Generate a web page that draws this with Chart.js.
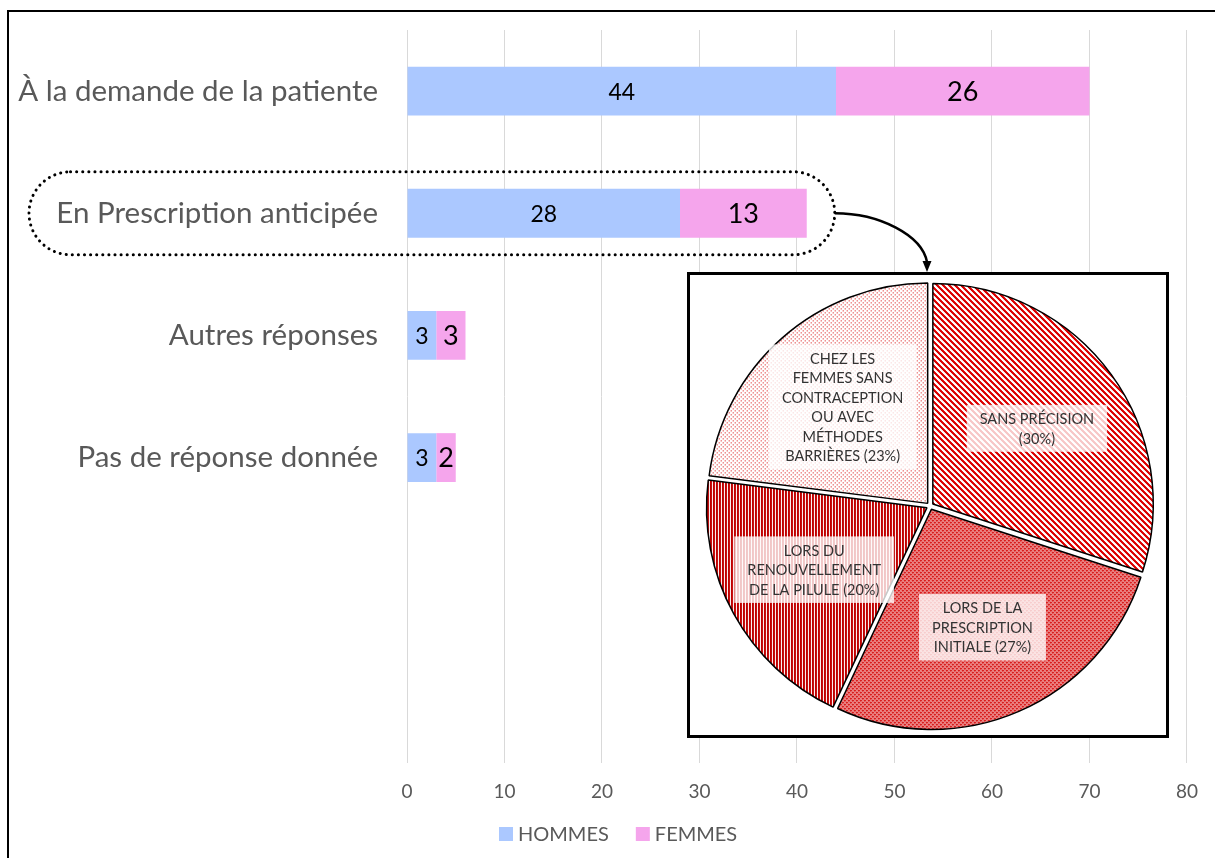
<!DOCTYPE html>
<html>
<head>
<meta charset="utf-8">
<script src="https://cdn.jsdelivr.net/npm/chart.js@4.4.1/dist/chart.umd.min.js"></script>
<style>
  html, body { margin: 0; padding: 0; background: #fff; overflow: hidden; }
  #page { position: relative; width: 1215px; height: 858px; overflow: hidden; }
  #frame { position: absolute; left: 7px; top: 10px; width: 1400px; height: 1000px; border: 2px solid #000; box-sizing: border-box; }
  #barChart { position: absolute; left: 0; top: 0; }
  #pieBox { position: absolute; left: 687px; top: 272px; width: 482px; height: 466px; border: 3px solid #000; box-sizing: border-box; background: #fff; }
  #pieChart { position: absolute; left: 695px; top: 271px; }
</style>
</head>
<body>
<div id="page">
  <div id="frame"></div>
  <canvas id="barChart" width="1215" height="858"></canvas>
  <div id="pieBox"></div>
  <canvas id="pieChart" width="470" height="470"></canvas>
</div>
<script>
// bar chart data
const categories = ['À la demande de la patiente', 'En Prescription anticipée', 'Autres réponses', 'Pas de réponse donnée', '', ''];
const hommes = [44, 28, 3, 3, null, null];
const femmes = [26, 13, 3, 2, null, null];
const seriesNames = ['HOMMES', 'FEMMES'];
const xMin = 0, xMax = 80, xStep = 10;

// pie data (inset : détail de la prescription anticipée)
const pieLabels = [
  ['SANS PRÉCISION', '(30%)'],
  ['LORS DE LA', 'PRESCRIPTION', 'INITIALE (27%)'],
  ['LORS DU', 'RENOUVELLEMENT', 'DE LA PILULE (20%)'],
  ['CHEZ LES', 'FEMMES SANS', 'CONTRACEPTION', 'OU AVEC', 'MÉTHODES', 'BARRIÈRES (23%)']
];
const pieValues = [30, 27, 20, 23];

const BLUE = '#abc8ff';
const PINK = '#f5a5ec';
const GREY_TXT = '#595959';
const FONT = 'Lato';

function makePattern(w, h, color, fillFn) {
  const c = document.createElement('canvas');
  c.width = w; c.height = h;
  const g = c.getContext('2d');
  g.fillStyle = '#fff';
  g.fillRect(0, 0, w, h);
  g.fillStyle = color;
  for (let y = 0; y < h; y++) {
    for (let x = 0; x < w; x++) {
      if (fillFn(x, y)) g.fillRect(x, y, 1, 1);
    }
  }
  return g.createPattern(c, 'repeat');
}

const piePatterns = [
  makePattern(6, 6, '#dc0000', (x, y) => ((x - y + 6) % 6) < 3),   // diagonales
  makePattern(4, 4, '#d40000', (x, y) => !((x + y) % 4 === 0 && x % 2 === 0) && !((x + y) % 4 === 0 && x % 2 === 1 && y % 2 === 1) && !(x === 1 && y === 1) && !(x === 3 && y === 3)), // treillis
  makePattern(3, 1, '#c00000', (x) => x < 2),                        // verticales
  makePattern(4, 4, '#d80000', (x, y) => (x === 0 && y === 0) || (x === 2 && y === 2)) // pointillé
];

const barLabels = {
  id: 'barLabels',
  afterDatasetsDraw(chart) {
    const ctx = chart.ctx;
    const sizes = [23, 27];
    ctx.save();
    ctx.fillStyle = '#000';
    ctx.textAlign = 'center';
    ctx.textBaseline = 'middle';
    chart.data.datasets.forEach((ds, di) => {
      const meta = chart.getDatasetMeta(di);
      ctx.font = sizes[di] + 'px ' + FONT;
      meta.data.forEach((bar, i) => {
        const v = ds.data[i];
        if (v == null) return;
        const p = bar.getCenterPoint();
        ctx.fillText(String(v), p.x, p.y + 1);
      });
    });
    ctx.restore();
  }
};

const callout = {
  id: 'callout',
  afterDraw(chart) {
    const ctx = chart.ctx;
    const xs = chart.scales.x, ys = chart.scales.y;
    const cy = ys.getPixelForValue(1);
    const right = xs.getPixelForValue(hommes[1] + femmes[1]) + 28;
    const left = 29, h = 83;
    ctx.save();
    ctx.strokeStyle = '#000';
    ctx.lineWidth = 3;
    ctx.lineCap = 'round';
    ctx.setLineDash([0.1, 6]);
    ctx.beginPath();
    ctx.roundRect(left, cy - h / 2, right - left, h, h / 2);
    ctx.stroke();
    // flèche vers l'encart
    ctx.setLineDash([]);
    ctx.lineCap = 'butt';
    ctx.lineWidth = 2.5;
    const tipX = 927, tipY = 272;
    ctx.beginPath();
    ctx.moveTo(right, cy);
    ctx.bezierCurveTo(right + 45, cy, tipX - 5, cy + 22, tipX, tipY - 10);
    ctx.stroke();
    ctx.beginPath();
    ctx.moveTo(tipX, tipY);
    ctx.lineTo(tipX - 4.5, tipY - 11);
    ctx.lineTo(tipX + 4.5, tipY - 11);
    ctx.closePath();
    ctx.fillStyle = '#000';
    ctx.fill();
    ctx.restore();
  }
};

const bottomLegend = {
  id: 'bottomLegend',
  afterDraw(chart) {
    const ctx = chart.ctx;
    let x = 499;
    const y = 834;
    ctx.save();
    ctx.font = '20px ' + FONT;
    ctx.textBaseline = 'middle';
    ctx.textAlign = 'left';
    chart.data.datasets.forEach((ds) => {
      ctx.fillStyle = ds.backgroundColor;
      ctx.fillRect(x, y - 7, 14, 14);
      ctx.fillStyle = GREY_TXT;
      ctx.fillText(ds.label, x + 19, y + 1);
      x += 19 + ctx.measureText(ds.label).width + 27;
    });
    ctx.restore();
  }
};

const pieText = {
  id: 'pieText',
  afterDatasetsDraw(chart) {
    const ctx = chart.ctx;
    const meta = chart.getDatasetMeta(0);
    const lineH = 19.5;
    ctx.save();
    ctx.font = '14.5px ' + FONT;
    ctx.textAlign = 'center';
    ctx.textBaseline = 'middle';
    meta.data.forEach((arc, i) => {
      const p = arc.getProps(['x', 'y', 'startAngle', 'endAngle', 'outerRadius']);
      const mid = (p.startAngle + p.endAngle) / 2;
      const r = p.outerRadius * 0.6;
      const cx = p.x + Math.cos(mid) * r;
      const cy = p.y + Math.sin(mid) * r;
      const lines = chart.data.labels[i];
      const w = Math.max(...lines.map(l => ctx.measureText(l).width)) + 26;
      const h = lines.length * lineH + 8;
      ctx.fillStyle = 'rgba(255,255,255,0.78)';
      ctx.fillRect(cx - w / 2, cy - h / 2, w, h);
      ctx.fillStyle = '#333';
      lines.forEach((l, k) => {
        ctx.fillText(l, cx, cy - (lines.length - 1) * lineH / 2 + k * lineH + 1);
      });
    });
    ctx.restore();
  }
};

function draw() {
  new Chart(document.getElementById('barChart'), {
    type: 'bar',
    data: {
      labels: categories,
      datasets: [
        { label: seriesNames[0], data: hommes, backgroundColor: BLUE },
        { label: seriesNames[1], data: femmes, backgroundColor: PINK }
      ]
    },
    options: {
      indexAxis: 'y',
      responsive: false,
      animation: false,
      layout: { padding: { top: 30, right: 28, bottom: 50, left: 0 } },
      datasets: { bar: { categoryPercentage: 1, barPercentage: 0.4 } },
      scales: {
        x: {
          stacked: true, min: xMin, max: xMax,
          ticks: { stepSize: xStep, color: GREY_TXT, font: { family: FONT, size: 19 }, padding: 17 },
          grid: { color: '#d9d9d9', drawTicks: false },
          border: { display: false },
          afterFit(s) { s.height = 45; }
        },
        y: {
          stacked: true,
          ticks: { color: GREY_TXT, font: { family: FONT, size: 29.5 }, padding: 29 },
          grid: { display: false, drawTicks: false },
          border: { display: false },
          afterFit(s) { s.width = 407; s.paddingTop = 0; s.paddingBottom = 0; }
        }
      },
      plugins: { legend: { display: false }, tooltip: { enabled: false } }
    },
    plugins: [barLabels, callout, bottomLegend]
  });

  new Chart(document.getElementById('pieChart'), {
    type: 'pie',
    data: {
      labels: pieLabels,
      datasets: [{
        data: pieValues,
        backgroundColor: piePatterns,
        borderColor: '#000',
        borderWidth: 1.5,
        offset: 14
      }]
    },
    options: {
      responsive: false,
      animation: false,
      layout: { padding: 7 },
      plugins: { legend: { display: false }, tooltip: { enabled: false } }
    },
    plugins: [pieText]
  });
}

Promise.all([
  document.fonts.load('30px ' + FONT),
  document.fonts.load('14px ' + FONT)
]).then(draw, draw);
</script>
</body>
</html>
